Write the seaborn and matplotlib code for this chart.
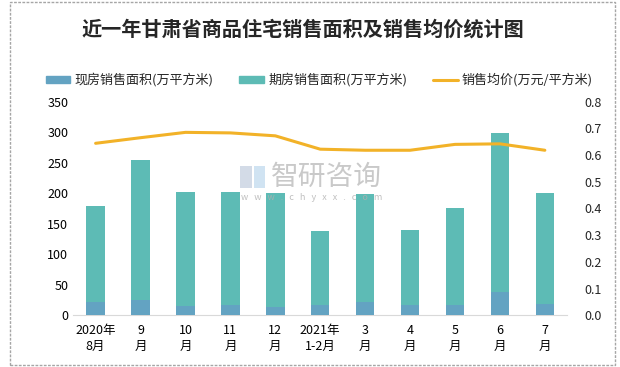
import pandas as pd
import numpy as np
import matplotlib.pyplot as plt
import seaborn as sns
from matplotlib.patches import Rectangle, Patch
from matplotlib.lines import Line2D

# chart data
months = ["2020年\n8月", "9\n月", "10\n月", "11\n月", "12\n月", "2021年\n1-2月",
          "3\n月", "4\n月", "5\n月", "6\n月", "7\n月"]
spot_area = [21, 25, 15, 17, 14, 17, 22, 17, 17, 38, 19]        # 现房销售面积
future_area = [158, 230, 187, 185, 186, 121, 177, 123, 159, 261, 181]  # 期房销售面积
avg_price = [0.644, 0.665, 0.685, 0.683, 0.672, 0.622, 0.618, 0.618, 0.640, 0.642, 0.618]

df = pd.DataFrame({"month": months, "spot": spot_area, "future": future_area, "price": avg_price})
df["total"] = df["spot"] + df["future"]

c_spot = "#63A3C2"
c_future = "#5DBBB5"
c_price = "#F2B228"

sns.set_style("white")
plt.rcParams["font.family"] = ["Noto Sans CJK SC", "DejaVu Sans"]

fig = plt.figure(figsize=(6.2, 3.67), dpi=100)
ax = fig.add_axes([0.118, 0.141, 0.797, 0.582])

sns.barplot(data=df, x="month", y="total", color=c_future, width=0.41,
            saturation=1, ax=ax, zorder=2)
sns.barplot(data=df, x="month", y="spot", color=c_spot, width=0.41,
            saturation=1, ax=ax, zorder=3)
for p in ax.patches:
    p.set_edgecolor("none")

ax.set_ylim(0, 350)
ax.set_yticks(range(0, 351, 50))
ax.set_xlim(-0.5, len(months) - 0.5)
ax.set_xlabel("")
ax.set_ylabel("")
for s in ["top", "left", "right"]:
    ax.spines[s].set_visible(False)
ax.spines["bottom"].set_color("#d9d9d9")
ax.tick_params(axis="both", length=0, labelsize=9, colors="#000000")
ax.tick_params(axis="x", pad=6)
for t in ax.get_xticklabels():
    t.set_linespacing(1.35)

ax2 = ax.twinx()
sns.lineplot(x=np.arange(len(months)), y=df["price"], color=c_price, linewidth=2.2, ax=ax2)
ax2.set_ylim(0, 0.8)
ax2.set_yticks(np.arange(0, 0.81, 0.1))
ax2.set_yticklabels([f"{v:.1f}" for v in np.arange(0, 0.81, 0.1)])
ax2.set_ylabel("")
for s in ["top", "left", "right", "bottom"]:
    ax2.spines[s].set_visible(False)
ax2.tick_params(axis="y", length=0, labelsize=9, pad=12)

# title, legend
fig.text(0.489, 0.922, "近一年甘肃省商品住宅销售面积及销售均价统计图",
         ha="center", va="center", fontsize=14.5, fontweight="bold")

handles = [Patch(color=c_spot, label="现房销售面积(万平方米)"),
           Patch(color=c_future, label="期房销售面积(万平方米)"),
           Line2D([], [], color=c_price, linewidth=2.2, label="销售均价(万元/平方米)")]
fig.legend(handles=handles, loc="center", bbox_to_anchor=(0.515, 0.782), ncol=3,
           frameon=False, fontsize=9.4, handlelength=1.9, handleheight=0.5,
           columnspacing=2.0, handletextpad=0.3)

# watermark
fig.text(0.527, 0.518, "智研咨询", ha="center", va="center", fontsize=20,
         color="#b8b8b8", alpha=0.75, zorder=10)
fig.text(0.502, 0.463, "w   w   w   .   c   h   y   x   x   .   c   o   m", ha="center",
         va="center", fontsize=6.5, color="#b0b0b0", alpha=0.8, zorder=10)
fig.patches.append(Rectangle((240 / 620, 1 - 188 / 367), 12 / 620, 22 / 367,
                             transform=fig.transFigure, facecolor="#c9d2e2",
                             edgecolor="none", alpha=0.8, zorder=10))
fig.patches.append(Rectangle((254 / 620, 1 - 188 / 367), 11 / 620, 22 / 367,
                             transform=fig.transFigure, facecolor="#c5dcef",
                             edgecolor="none", alpha=0.8, zorder=10))

# outer frame
fig.patches.append(Rectangle((10 / 620, 2 / 367), 605 / 620, 363 / 367,
                             transform=fig.transFigure, fill=False,
                             edgecolor="#a6a6a6", linewidth=1, linestyle=(0, (2, 1))))

fig.savefig("out.png", dpi=100)
